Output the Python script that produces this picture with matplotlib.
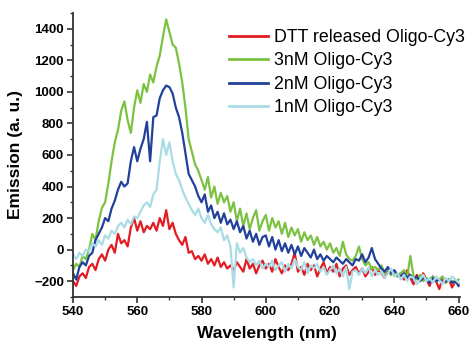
import numpy as np
import matplotlib
matplotlib.use("Agg")
import matplotlib.pyplot as plt
from matplotlib.ticker import MultipleLocator

plt.rcParams['font.family'] = ['Liberation Sans', 'DejaVu Sans']

wavelength = np.arange(540, 661)

green_3nM = [
    -130, -90, -110, -40, -60, 0, 100, 60, 180, 265,
    300, 420, 560, 680, 760, 880, 940, 820, 740, 900,
    1010, 930, 1050, 1000, 1110, 1060, 1160, 1230, 1350, 1460,
    1380, 1300, 1280, 1180, 1060, 900, 700, 620, 540, 500,
    440, 380, 460, 330, 400, 290, 360, 300, 340, 240,
    300, 180, 260, 150, 230, 130, 200, 250, 120, 180,
    220, 120, 200, 140, 180, 100, 170, 80, 140, 90,
    130, 50, 110, 60, 90, 30, 80, 20, 50, 0,
    40, -20, 10, -40, 50, -30, -60, -70, -40, 20,
    -60, -100, -80, -120, -110, -130, -100, -150, -120, -160,
    -140, -170, -150, -130, -180, -40, -170, -190, -160, -200,
    -180, -190, -170, -200, -190, -170, -210, -190, -200, -210,
    -190]

blue_2nM = [
    -150, -190, -110, -80, -100, -40, -20, 60, 100, 140,
    200, 180, 260, 310, 380, 430, 400, 420, 560, 650,
    560, 640, 700, 810, 560, 840, 850, 960, 1010, 1040,
    1030, 990, 900, 840, 740, 610, 480, 440, 400, 340,
    300, 350, 240, 280, 200, 240, 170, 230, 160, 190,
    130, 180, 110, 150, 70, 120, 50, 100, 30, 80,
    90, 20, 80, 0, 60, -10, 40, -20, 30, -30,
    20, -40, 10, -20, -50, 0, -60, -30, -70, -40,
    -60, -80, -50, -70, -90, -60, -80, -100, -60, -70,
    -30, -80, -50, 10, -60, -90, -120, -140, -110, -150,
    -130, -160, -170, -150, -180, -160, -190, -170, -200, -180,
    -190, -210, -180, -200, -190, -210, -200, -190, -210, -200,
    -230]

lightblue_1nM = [
    -30, -60, -20, -40, 0, -10, 40, 20, 60, 30,
    90, 70, 120, 100, 150, 170, 140, 190, 160, 210,
    200, 240, 280, 300, 270, 350, 380, 560, 700, 600,
    680, 560, 480, 440, 380, 330, 290, 250, 220, 260,
    200, 170, 220, 160, 130, 110, 140, 60, 90, 20,
    -240, 40, -20, 10, -50, -80, -60, -100, -70, -120,
    -90, -110, -70, -130, -100, -80, -140, -90, -120, -60,
    -110, -130, -80, -150, -100, -120, -90, -140, -110, -160,
    -130, -100, -150, -120, -170, -110, -250, -140, -130, -160,
    -120, -150, -110, -170, -130, -160, -140, -180, -150, -120,
    -170, -150, -190, -160, -200, -170, -180, -220, -190, -160,
    -200, -180, -210, -170, -190, -220, -180, -200, -170, -190,
    -210]

red_dtt = [
    -200, -230, -170, -150, -180, -110, -90, -130, -60, -30,
    -70, 0, 30, -20, 100, 40, 60, 20, 140, 200,
    120, 180, 110, 150, 130, 170, 120, 200, 150, 250,
    130, 170, 100, 60, 30, 80, -20, -10, -60, -40,
    -70, -30, -90, -60, -100, -50, -110, -80, -120, -100,
    -130, -80, -110, -140, -60, -120, -90, -150, -100, -70,
    -120, -90, -140, -60, -110, -150, -100, -130, -90, -20,
    -140, -110, -160, -90, -130, -100, -170, -120, -80, -150,
    -110, -140, -90, -170, -120, -100, -160, -130, -110, -150,
    -120, -170, -140, -110, -160, -130, -150, -180, -120, -160,
    -140, -170, -150, -190, -130, -180, -220, -160, -200, -150,
    -190, -230, -170, -200, -250, -180, -210, -190, -240, -200,
    -220]

labels = ["DTT released Oligo-Cy3", "3nM Oligo-Cy3", "2nM Oligo-Cy3", "1nM Oligo-Cy3"]
colors = ["#e31b23", "#7cc242", "#21409a", "#a9dce5"]
series = [red_dtt, green_3nM, blue_2nM, lightblue_1nM]

fig = plt.figure(figsize=(4.71, 3.51), dpi=100)
ax = fig.add_axes([0.155, 0.154, 0.822, 0.809])

for y, c, lab in zip(series, colors, labels):
    ax.plot(wavelength, y, color=c, lw=1.6, label=lab)

ax.set_xlim(540, 660.5)
ax.set_ylim(-300, 1500)
ax.xaxis.set_major_locator(MultipleLocator(20))
ax.xaxis.set_minor_locator(MultipleLocator(10))
ax.yaxis.set_minor_locator(MultipleLocator(100))
ax.set_yticks(np.arange(-200, 1401, 200))

for s in ['top', 'right']:
    ax.spines[s].set_visible(False)
for s in ['left', 'bottom']:
    ax.spines[s].set_color('#333333')
    ax.spines[s].set_linewidth(1.3)

ax.tick_params(which='major', direction='out', length=4.5, width=1.2, color='#333333',
               labelsize=9.5, pad=2)
ax.tick_params(which='minor', direction='out', length=2.5, width=1.0, color='#333333')
for t in ax.get_xticklabels() + ax.get_yticklabels():
    t.set_fontweight('bold')

ax.set_xlabel("Wavelength (nm)", fontsize=12.5, fontweight='bold', labelpad=6)
ax.set_ylabel("Emission (a. u.)", fontsize=12.5, fontweight='bold', labelpad=8)

leg = ax.legend(loc='upper right', bbox_to_anchor=(1.035, 0.975), frameon=False,
                fontsize=12.8, handlelength=2.2, handletextpad=0.35,
                labelspacing=0.36, borderaxespad=0.1)
for line in leg.get_lines():
    line.set_linewidth(2.0)

fig.savefig("out.png", dpi=100)
